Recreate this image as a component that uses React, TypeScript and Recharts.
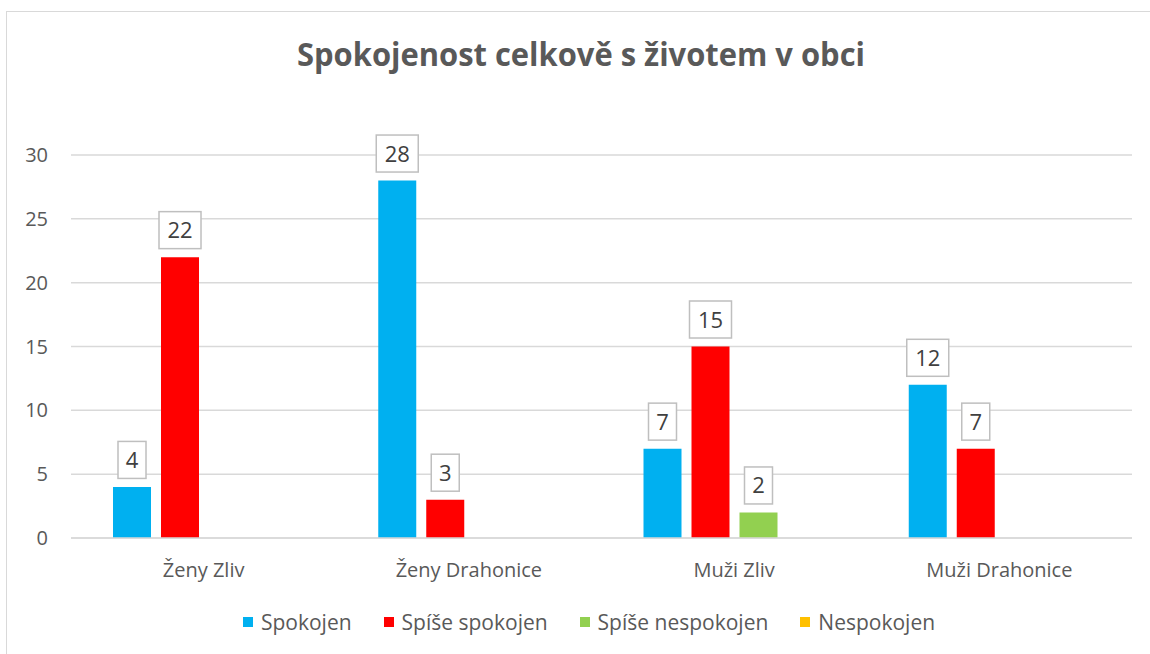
import React from "react";
import {
  BarChart,
  Bar,
  XAxis,
  YAxis,
  CartesianGrid,
  Legend,
  LabelList,
} from "recharts";

const categories = ["Ženy Zliv", "Ženy Drahonice", "Muži Zliv", "Muži Drahonice"];
const spokojen = [4, 28, 7, 12];
const spiseSpokojen = [22, 3, 15, 7];
const spiseNespokojen = [0, 0, 2, 0];
const nespokojen = [0, 0, 0, 0];
const yTicks = [0, 5, 10, 15, 20, 25, 30];

const series = [
  { key: "spokojen", name: "Spokojen", color: "#00B0F0" },
  { key: "spiseSpokojen", name: "Spíše spokojen", color: "#FF0000" },
  { key: "spiseNespokojen", name: "Spíše nespokojen", color: "#92D050" },
  { key: "nespokojen", name: "Nespokojen", color: "#FFC000" },
];

const data = categories.map((name, i) => ({
  name,
  spokojen: spokojen[i],
  spiseSpokojen: spiseSpokojen[i],
  spiseNespokojen: spiseNespokojen[i],
  nespokojen: nespokojen[i],
}));

const FONT = "'Open Sans', sans-serif";
const TEXT = "#595959";

// boxed data label like the excel callouts, zero values hidden
const BoxLabel = (props: any) => {
  const { x, y, width, value } = props;
  if (!value) return null;
  const label = String(value);
  const w = label.length > 1 ? 42 : 28;
  const h = 37;
  const cx = x + width / 2;
  const bottom = y - 8.5;
  return (
    <g>
      <rect
        x={cx - w / 2}
        y={bottom - h}
        width={w}
        height={h}
        fill="#fff"
        stroke="#BFBFBF"
        strokeWidth={1.5}
      />
      <text
        x={cx}
        y={bottom - h / 2 + 8}
        textAnchor="middle"
        fontSize={22}
        fontFamily={FONT}
        fill="#404040"
      >
        {label}
      </text>
    </g>
  );
};

const LegendContent = () => (
  <div
    style={{
      display: "flex",
      justifyContent: "center",
      alignItems: "center",
      fontFamily: FONT,
      fontSize: 21,
      color: TEXT,
      paddingLeft: 60,
    }}
  >
    {series.map((s) => (
      <div key={s.key} style={{ display: "flex", alignItems: "center", marginRight: 32 }}>
        <span
          style={{ width: 10, height: 10, background: s.color, display: "inline-block", marginRight: 8 }}
        />
        <span>{s.name}</span>
      </div>
    ))}
  </div>
);

export default function App() {
  return (
    <div
      style={{
        position: "absolute",
        left: 0,
        top: 0,
        width: 1150,
        height: 654,
        overflow: "hidden",
        background: "#fff",
        fontFamily: FONT,
      }}
    >
      <div
        style={{
          position: "absolute",
          left: 6,
          top: 11,
          width: 1200,
          height: 700,
          border: "1.5px solid #D9D9D9",
        }}
      />
      <svg
        width={1150}
        height={100}
        style={{ position: "absolute", left: 0, top: 0 }}
      >
        <text
          x={581}
          y={66}
          textAnchor="middle"
          fontSize={33}
          fontWeight="bold"
          fontFamily={FONT}
          fill={TEXT}
          textLength={568}
          lengthAdjust="spacingAndGlyphs"
        >
          Spokojenost celkově s životem v obci
        </text>
      </svg>
      <div style={{ position: "absolute", left: 0, top: 0 }}>
        <BarChart
          width={1150}
          height={654}
          data={data}
          margin={{ top: 155, right: 18, bottom: 76, left: 11 }}
          barSize={38}
          barGap={10}
        >
          <CartesianGrid vertical={false} stroke="#D9D9D9" strokeWidth={1.5} />
          <XAxis
            dataKey="name"
            height={40}
            tickLine={false}
            axisLine={{ stroke: "#D9D9D9", strokeWidth: 1.5 }}
            tick={{ fontSize: 20, fill: TEXT, fontFamily: FONT }}
            tickSize={0}
            tickMargin={25}
          />
          <YAxis
            width={60}
            domain={[0, 30]}
            ticks={yTicks}
            axisLine={false}
            tickLine={false}
            tickSize={0}
            tickMargin={23}
            tick={{ fontSize: 20, fill: TEXT, fontFamily: FONT }}
          />
          <Legend
            verticalAlign="middle"
            align="center"
            layout="horizontal"
            wrapperStyle={{ top: 608, left: 0, width: 1150 }}
            content={<LegendContent />}
          />
          {series.map((s) => (
            <Bar key={s.key} dataKey={s.key} name={s.name} fill={s.color} isAnimationActive={false}>
              <LabelList dataKey={s.key} content={<BoxLabel />} />
            </Bar>
          ))}
        </BarChart>
      </div>
    </div>
  );
}
